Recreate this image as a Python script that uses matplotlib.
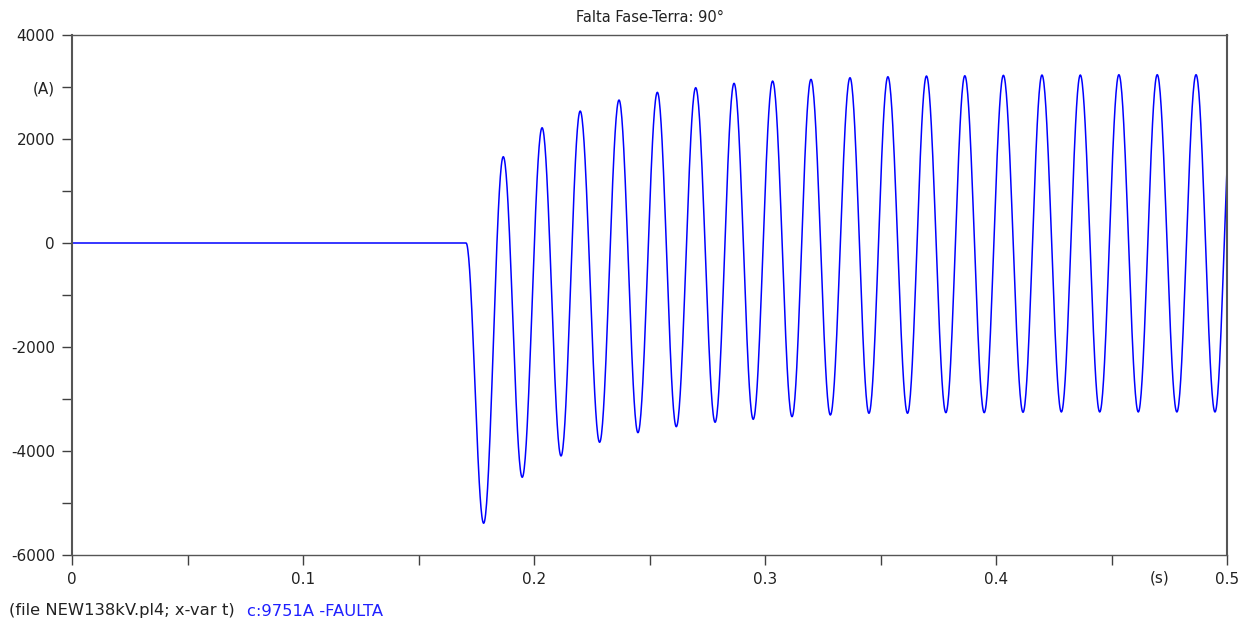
import numpy as np
import matplotlib
matplotlib.use("Agg")
import matplotlib.pyplot as plt

# valores (corrente de falta, A)
t_falta = 0.1706          # instante em que a corrente deixa o zero
t_pico = [0.1867, 0.2035, 0.2200, 0.2368, 0.2534, 0.2700, 0.2866, 0.3033, 0.3199, 0.3368,
          0.3532, 0.3699, 0.3865, 0.4032, 0.4199, 0.4365, 0.4532, 0.4698, 0.4866, 0.5028]
i_pico = [1660, 2217, 2538, 2750, 2898, 2987, 3071, 3115, 3147, 3179,
          3198, 3212, 3217, 3225, 3231, 3231, 3237, 3237, 3237, 3240]
t_vale = [0.1782, 0.1949, 0.2117, 0.2284, 0.2450, 0.2616, 0.2784, 0.2949, 0.3117, 0.3283,
          0.3450, 0.3617, 0.3783, 0.3949, 0.4117, 0.4283, 0.4449, 0.4616, 0.4783, 0.4948]
i_vale = [-5390, -4506, -4096, -3833, -3648, -3533, -3448, -3391, -3340, -3308,
          -3275, -3275, -3263, -3263, -3256, -3250, -3250, -3250, -3250, -3250]

y_ticks = [-6000, -5000, -4000, -3000, -2000, -1000, 0, 1000, 2000, 3000, 4000]
y_labels = ["-6000", "", "-4000", "", "-2000", "", "0", "", "2000", "(A)", "4000"]
x_ticks = [0, 0.05, 0.1, 0.15, 0.2, 0.25, 0.3, 0.35, 0.4, 0.45, 0.5]
x_labels = ["0", "", "0.1", "", "0.2", "", "0.3", "", "0.4", "", "0.5"]

plt.rcParams['font.family'] = ['DejaVu Sans']
plt.rcParams['font.size'] = 11

fig = plt.figure(figsize=(12.52, 6.28), dpi=100)
ax = fig.add_axes([72/1252, 1-555/628, 1155/1252, 520/628])

# curva: reta em zero ate a falta, depois meias ondas entre vales e picos lidos
extremos = [(t_falta, 0)]
for k in range(len(t_vale)):
    extremos.append((t_vale[k], i_vale[k]))
    extremos.append((t_pico[k], i_pico[k]))

tt = [0.0]
ii = [0.0]
s = np.linspace(0, 1, 41)
for (t0, y0), (t1, y1) in zip(extremos[:-1], extremos[1:]):
    tt.extend(t0 + s*(t1 - t0))
    ii.extend(y0 + (y1 - y0)*(1 - np.cos(np.pi*s))/2)

ax.plot(tt, ii, color='#0000ff', lw=1.1)

ax.set_xlim(0, 0.5)
ax.set_ylim(-6000, 4000)
ax.set_yticks(y_ticks)
ax.set_yticklabels(y_labels)
ax.set_xticks(x_ticks)
ax.set_xticklabels(x_labels)
ax.tick_params(direction='out', length=7.2, width=1, color='#404040', labelcolor='#222222', pad=5)

for sp in ax.spines.values():
    sp.set_color('#555555')
    sp.set_linewidth(1.0)
ax.spines['left'].set_linewidth(1.5)
ax.spines['right'].set_linewidth(1.5)

ax.set_title("Falta Fase-Terra: 90°", fontsize=10.5, color='#222222', pad=9)
fig.text(1160/1252, 1-578/628, "(s)", ha='center', va='center', color='#222222')
fig.text(9/1252, 1-611/628, "(file NEW138kV.pl4; x-var t)", ha='left', va='center',
         color='#222222', fontsize=11.8)
fig.text(247/1252, 1-611/628, "c:9751A -FAULTA", ha='left', va='center',
         color='#2020ff', fontsize=11.8)

fig.savefig("out.png", dpi=100, facecolor='white')
